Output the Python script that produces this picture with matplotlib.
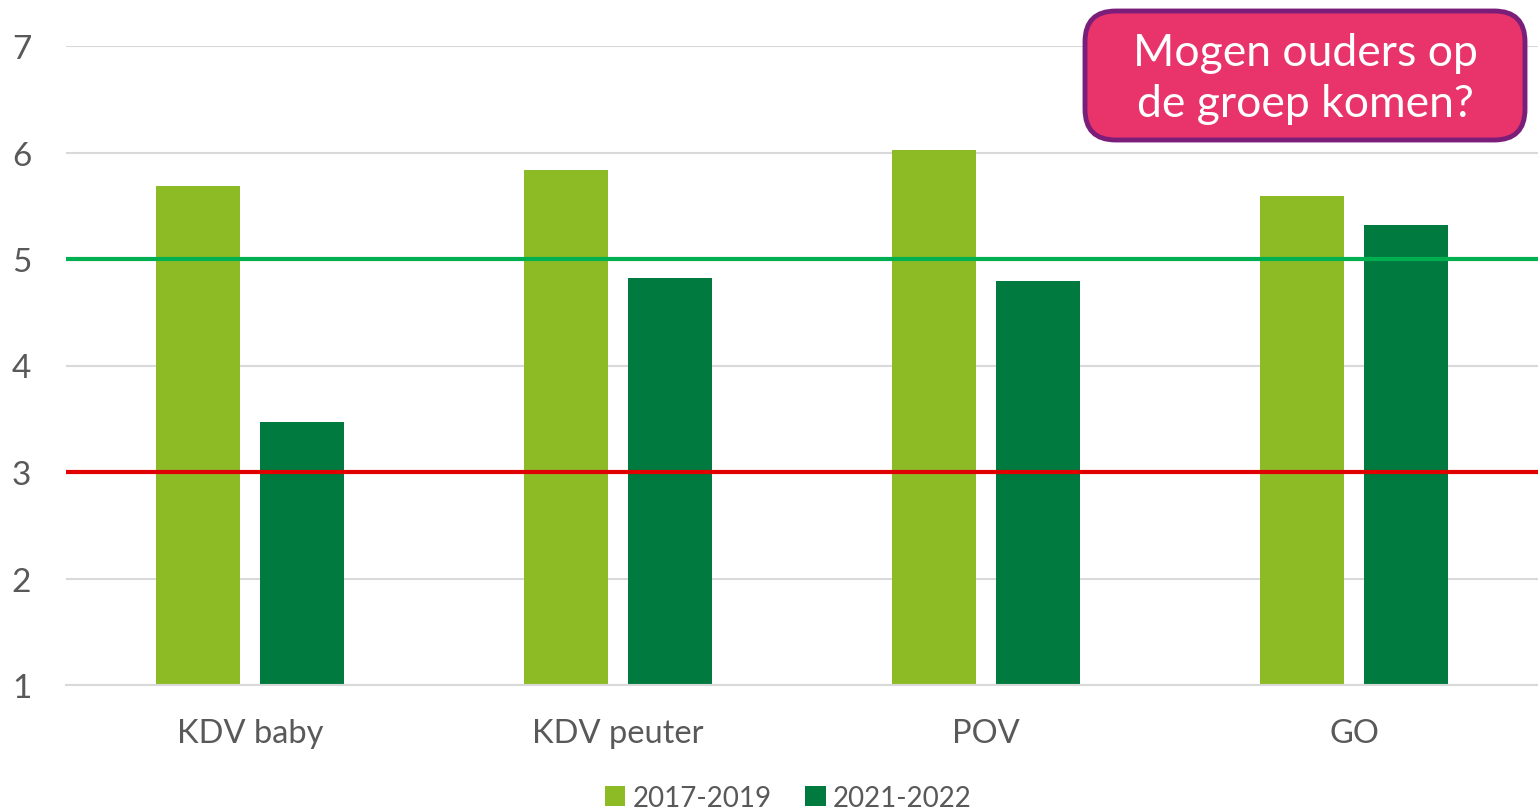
import matplotlib.pyplot as plt
from matplotlib.patches import FancyBboxPatch
import numpy as np

# data
categories = ['KDV baby', 'KDV peuter', 'POV', 'GO']
series_names = ['2017-2019', '2021-2022']
vals_2017 = [5.69, 5.84, 6.02, 5.59]
vals_2021 = [3.47, 4.82, 4.79, 5.32]
green_line = 5
red_line = 3
yticks = [1, 2, 3, 4, 5, 6, 7]
box_text = 'Mogen ouders op\nde groep komen?'

plt.rcParams['font.family'] = ['Lato', 'DejaVu Sans']

fig = plt.figure(figsize=(15.38, 8.12), dpi=100)
ax = fig.add_axes([66 / 1538, 1 - 686 / 812, 1 - 66 / 1538, (686 - 47) / 812])

x = np.arange(len(categories))
w = 0.228
off = 0.142
ax.bar(x - off, vals_2017, width=w, bottom=0, color='#8CBB26', label=series_names[0], zorder=2)
ax.bar(x + off, vals_2021, width=w, bottom=0, color='#007A3F', label=series_names[1], zorder=2)

ax.axhline(green_line, color='#00B050', lw=3, zorder=3)
ax.axhline(red_line, color='#E00000', lw=3, zorder=3)

ax.set_xlim(-0.5, 3.5)
ax.set_ylim(1, 7)
ax.set_yticks(yticks)
ax.grid(axis='y', color='#D9D9D9', lw=1.5, zorder=0)
for s in ['top', 'right', 'left']:
    ax.spines[s].set_visible(False)
ax.spines['bottom'].set_color('#D9D9D9')
ax.spines['bottom'].set_linewidth(1.5)
ax.set_xticks(x)
ax.set_xticklabels(categories, fontsize=23.5, color='#595959')
ax.tick_params(axis='x', length=0, pad=24)
ax.tick_params(axis='y', length=0, pad=25, labelsize=24, labelcolor='#595959')

# vraag-kader rechtsboven
box = FancyBboxPatch((1085 / 1538, 1 - 141 / 812), 440 / 1538, 129 / 812,
                     boxstyle='round,pad=0,rounding_size=0.02',
                     transform=fig.transFigure, facecolor='#E8336B',
                     edgecolor='#7B1E7A', lw=3.5, zorder=5, mutation_aspect=1538 / 812)
fig.patches.append(box)
fig.text(1305 / 1538, 1 - 79 / 812, box_text, ha='center', va='center',
         fontsize=32, color='white', linespacing=1.33, zorder=6)

fig.legend(loc='center', bbox_to_anchor=(788 / 1538, 1 - 799 / 812), ncol=2,
           frameon=False, fontsize=20, handlelength=0.75, handleheight=0.75,
           handletextpad=0.25, columnspacing=1.2, labelcolor='#595959')

fig.savefig('out.png', dpi=100)
